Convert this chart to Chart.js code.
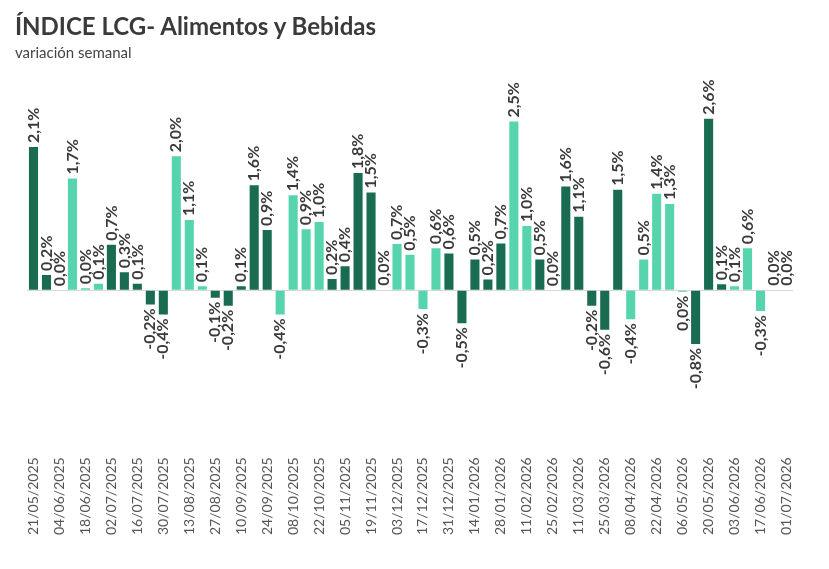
<!DOCTYPE html>
<html>
<head>
<meta charset="utf-8">
<script src="https://cdn.jsdelivr.net/npm/chart.js@4.4.1/dist/chart.umd.min.js"></script>
<style>
    body { margin: 0; background: #fff; }
    #wrap { position: relative; width: 829px; height: 569px; }
    #titulo { position: absolute; left: 15px; top: 11px; font: bold 24px Lato, sans-serif; color: #3a3a3a; }
    #subtitulo { position: absolute; left: 15px; top: 43px; font: 15px Lato, sans-serif; color: #444; }
    canvas { position: absolute; left: 0; top: 0; }
</style>
</head>
<body>
<div id="wrap">
    <canvas id="lcgChart" width="829" height="569"></canvas>
    <div id="titulo">ÍNDICE LCG- Alimentos y Bebidas</div>
    <div id="subtitulo">variación semanal</div>
</div>
<script>
// Semanas (miércoles), una barra por semana
const semanas = [
    '21/05/2025', '28/05/2025', '04/06/2025', '11/06/2025', '18/06/2025', '25/06/2025',
    '02/07/2025', '09/07/2025', '16/07/2025', '23/07/2025', '30/07/2025', '06/08/2025',
    '13/08/2025', '20/08/2025', '27/08/2025', '03/09/2025', '10/09/2025', '17/09/2025',
    '24/09/2025', '01/10/2025', '08/10/2025', '15/10/2025', '22/10/2025', '29/10/2025',
    '05/11/2025', '12/11/2025', '19/11/2025', '26/11/2025', '03/12/2025', '10/12/2025',
    '17/12/2025', '24/12/2025', '31/12/2025', '07/01/2026', '14/01/2026', '21/01/2026',
    '28/01/2026', '04/02/2026', '11/02/2026', '18/02/2026', '25/02/2026', '04/03/2026',
    '11/03/2026', '18/03/2026', '25/03/2026', '01/04/2026', '08/04/2026', '15/04/2026',
    '22/04/2026', '29/04/2026', '06/05/2026', '13/05/2026', '20/05/2026', '27/05/2026',
    '03/06/2026', '10/06/2026', '17/06/2026', '24/06/2026', '01/07/2026'
];

// Variacion semanal (%)
const variacion = [
    2.14, 0.23, 0.0, 1.67, 0.03, 0.10, 0.68, 0.27, 0.10, -0.21,
    -0.36, 2.0, 1.05, 0.06, -0.11, -0.23, 0.06, 1.57, 0.90, -0.36,
    1.42, 0.91, 1.02, 0.17, 0.36, 1.75, 1.46, 0.01, 0.69, 0.53,
    -0.28, 0.63, 0.55, -0.49, 0.46, 0.16, 0.70, 2.52, 0.96, 0.46,
    0.0, 1.55, 1.10, -0.23, -0.59, 1.50, -0.43, 0.46, 1.44, 1.29,
    -0.02, -0.80, 2.56, 0.09, 0.06, 0.63, -0.31, 0.01, 0.01
];

// Tono de cada barra: 'o' oscuro, 'c' claro
const tonos = [
    'o', 'o', 'o', 'c', 'c', 'c', 'o', 'o', 'o', 'o',
    'o', 'c', 'c', 'c', 'o', 'o', 'o', 'o', 'o', 'c',
    'c', 'c', 'c', 'o', 'o', 'o', 'o', 'o', 'c', 'c',
    'c', 'c', 'o', 'o', 'o', 'o', 'o', 'c', 'c', 'o',
    'o', 'o', 'o', 'o', 'o', 'o', 'c', 'c', 'c', 'c',
    'c', 'o', 'o', 'o', 'c', 'c', 'c', 'c', 'c'
];

const verdeOscuro = '#196c51';
const verdeClaro = '#56d4ae';

const fmt = v => {
    const r = Math.round(v * 10) / 10;
    return (r === 0 ? 0 : r).toFixed(1).replace('.', ',') + '%';
};

// Etiquetas giradas encima/debajo de cada barra
const etiquetas = {
    id: 'etiquetas',
    afterDatasetsDraw(chart) {
        const ctx = chart.ctx;
        const meta = chart.getDatasetMeta(0);
        ctx.save();
        ctx.font = 'bold 16px Lato, sans-serif';
        ctx.fillStyle = '#3a3a3a';
        ctx.textBaseline = 'middle';
        meta.data.forEach((bar, i) => {
            const v = variacion[i];
            ctx.save();
            if (v >= 0) {
                ctx.translate(bar.x, bar.y - 4);
                ctx.rotate(-Math.PI / 2);
                ctx.textAlign = 'left';
            } else {
                ctx.translate(bar.x, bar.y + 4);
                ctx.rotate(-Math.PI / 2);
                ctx.textAlign = 'right';
            }
            ctx.fillText(fmt(v), 0, 0);
            ctx.restore();
        });
        ctx.restore();
    }
};

const ctx = document.getElementById('lcgChart').getContext('2d');
new Chart(ctx, {
    type: 'bar',
    data: {
        labels: semanas,
        datasets: [{
            data: variacion,
            backgroundColor: tonos.map(t => t === 'o' ? verdeOscuro : verdeClaro),
            barPercentage: 0.7,
            categoryPercentage: 1.0
        }]
    },
    options: {
        responsive: false,
        animation: false,
        layout: { padding: { left: 27, right: 36, top: 80, bottom: 27 } },
        plugins: { legend: { display: false }, tooltip: { enabled: false } },
        scales: {
            x: {
                grid: { display: false },
                border: { display: false },
                ticks: {
                    autoSkip: false,
                    minRotation: 90,
                    maxRotation: 90,
                    padding: 7,
                    color: '#555',
                    font: { family: 'Lato, sans-serif', size: 14 },
                    callback: (val, i) => i % 2 === 0 ? semanas[i] : ''
                }
            },
            y: {
                display: true,
                min: -2.27,
                max: 3.14,
                ticks: { display: false, stepSize: 1 },
                border: { display: false },
                grid: {
                    drawTicks: false,
                    color: c => c.tick.value === 0 ? '#d9d9d9' : 'rgba(0,0,0,0)'
                }
            }
        }
    },
    plugins: [etiquetas]
});
</script>
</body>
</html>
